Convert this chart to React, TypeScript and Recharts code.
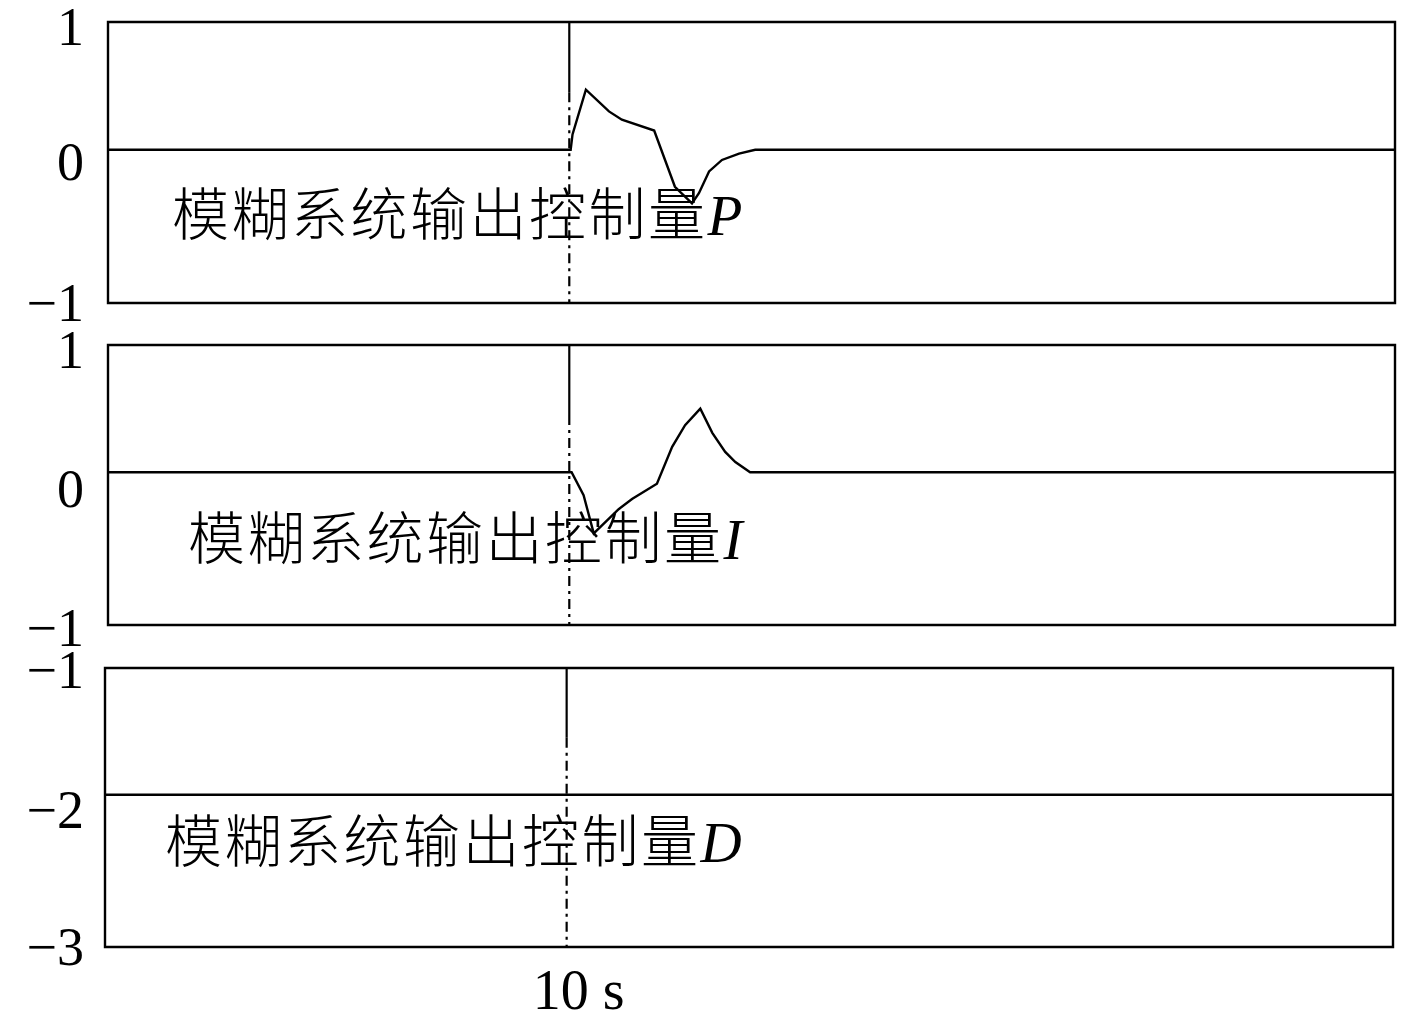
import React from "react";
import { LineChart, Line, XAxis, YAxis, ReferenceArea, ReferenceLine } from "recharts";

// ---- data ----
const timeDomain: [number, number] = [0, 27.9];
const markTime = 10;
const xTickLabel = "10 s";

const pTimes = [0, 10.03, 10.07, 10.36, 10.86, 11.14, 11.84, 12.29, 12.66, 12.81, 13.03, 13.31, 13.68, 14.03, 27.9];
const pValues = [0, 0, 0.12, 0.47, 0.3, 0.235, 0.15, -0.29, -0.42, -0.34, -0.17, -0.08, -0.03, 0, 0];

const iTimes = [0, 10.05, 10.31, 10.53, 11.07, 11.36, 11.9, 12.23, 12.51, 12.84, 13.1, 13.38, 13.6, 13.92, 27.9];
const iValues = [0, 0, -0.18, -0.48, -0.29, -0.21, -0.09, 0.2, 0.37, 0.5, 0.31, 0.16, 0.08, 0, 0];

const dTimes = [0, 27.9];
const dValues = [-2, -2];

const pTicks = [1, 0, -1.2];
const pTickLabels = ["1", "0", "\u22121"];
const iTicks = [1, 0, -1.2];
const iTickLabels = ["1", "0", "\u22121"];
const dTicks = [-1, -2, -3.2];
const dTickLabels = ["\u22121", "\u22122", "\u22123"];

const pTitle = "模糊系统输出控制量";
const pSym = "P";
const iSym = "I";
const dSym = "D";

const toRows = (ts: number[], vs: number[]) => ts.map((t, k) => ({ t, v: vs[k] }));

const SERIF = "'Liberation Serif', 'DejaVu Serif', serif";
const CJK = "'Noto Sans CJK SC', 'Noto Sans CJK JP', sans-serif";

function makeYTick(labels: string[], offsets: number[]) {
  return (props: any) => {
    const { y, index } = props;
    return (
      <text
        x={84}
        y={y + offsets[index]}
        textAnchor="end"
        dominantBaseline="central"
        fontFamily={SERIF}
        fontSize={54}
        fill="#000"
      >
        {labels[index]}
      </text>
    );
  };
}

const XTick = (props: any) => {
  const { x, y } = props;
  return (
    <text x={x + 12} y={y + 14} textAnchor="middle" dominantBaseline="hanging" fontFamily={SERIF} fontSize={56} fill="#000">
      {xTickLabel}
    </text>
  );
};

type PanelProps = {
  rows: { t: number; v: number }[];
  domain: [number, number];
  mid: number;
  ticks: number[];
  labels: string[];
  offsets: number[];
  top: number;
  height: number;
  margin: { top: number; bottom: number; left: number; right: number };
  showX?: boolean;
};

function Panel({ rows, domain, mid, ticks, labels, offsets, top, height, margin, showX }: PanelProps) {
  return (
    <div style={{ position: "absolute", left: 0, top, width: 1417, height }}>
      <LineChart width={1417} height={height} data={rows} margin={margin} style={{ overflow: "visible" }}>
        <XAxis
          dataKey="t"
          type="number"
          domain={timeDomain}
          ticks={[markTime]}
          hide={!showX}
          axisLine={false}
          tickLine={false}
          tick={showX ? <XTick /> : false}
          height={showX ? 1 : 0}
        />
        <YAxis
          type="number"
          domain={domain}
          ticks={ticks}
          width={100}
          axisLine={false}
          tickLine={false}
          interval={0}
          tick={makeYTick(labels, offsets)}
        />
        <ReferenceLine
          segment={[
            { x: markTime, y: domain[1] },
            { x: markTime, y: mid + 0.45 },
          ]}
          stroke="#000"
          strokeWidth={2.2}
        />
        <ReferenceLine
          segment={[
            { x: markTime, y: mid + 0.45 },
            { x: markTime, y: domain[0] },
          ]}
          stroke="#000"
          strokeWidth={2.2}
          strokeDasharray="10 5 3 5"
        />
        <Line
          type="linear"
          dataKey="v"
          stroke="#000"
          strokeWidth={2.4}
          dot={false}
          isAnimationActive={false}
        />
        <ReferenceArea
          x1={timeDomain[0]}
          x2={timeDomain[1]}
          y1={domain[0]}
          y2={domain[1]}
          fill="none"
          fillOpacity={0}
          stroke="#000"
          strokeWidth={2.4}
          ifOverflow="visible"
        />
      </LineChart>
    </div>
  );
}

function Title({ sym, left, top }: { sym: string; left: number; top: number }) {
  return (
    <div
      style={{
        position: "absolute",
        left,
        top,
        fontSize: 57,
        lineHeight: "57px",
        whiteSpace: "nowrap",
        color: "#000",
      }}
    >
      <span style={{ fontFamily: CJK, fontWeight: 300, letterSpacing: 2.5 }}>{pTitle}</span>
      <span style={{ fontFamily: SERIF, fontStyle: "italic" }}>{sym}</span>
    </div>
  );
}

export default function App() {
  return (
    <div style={{ position: "absolute", left: 0, top: 0, width: 1417, height: 1019, background: "#fff", overflow: "hidden" }}>
      <Panel
        rows={toRows(pTimes, pValues)}
        domain={[-1.2, 1]}
        mid={0}
        ticks={pTicks}
        labels={pTickLabels}
        offsets={[5, 12, 0]}
        top={0}
        height={340}
        margin={{ top: 22, bottom: 37, left: 8, right: 22 }}
      />
      <Panel
        rows={toRows(iTimes, iValues)}
        domain={[-1.2, 1]}
        mid={0}
        ticks={iTicks}
        labels={iTickLabels}
        offsets={[5, 17, 3]}
        top={320}
        height={340}
        margin={{ top: 25, bottom: 35, left: 8, right: 22 }}
      />
      <Panel
        rows={toRows(dTimes, dValues)}
        domain={[-3.2, -1]}
        mid={-2}
        ticks={dTicks}
        labels={dTickLabels}
        offsets={[2, 15, 0]}
        top={640}
        height={379}
        margin={{ top: 28, bottom: 71, left: 5, right: 24 }}
        showX
      />
      <Title sym={pSym} left={172} top={182} />
      <Title sym={iSym} left={188} top={506} />
      <Title sym={dSym} left={165} top={809} />
    </div>
  );
}
